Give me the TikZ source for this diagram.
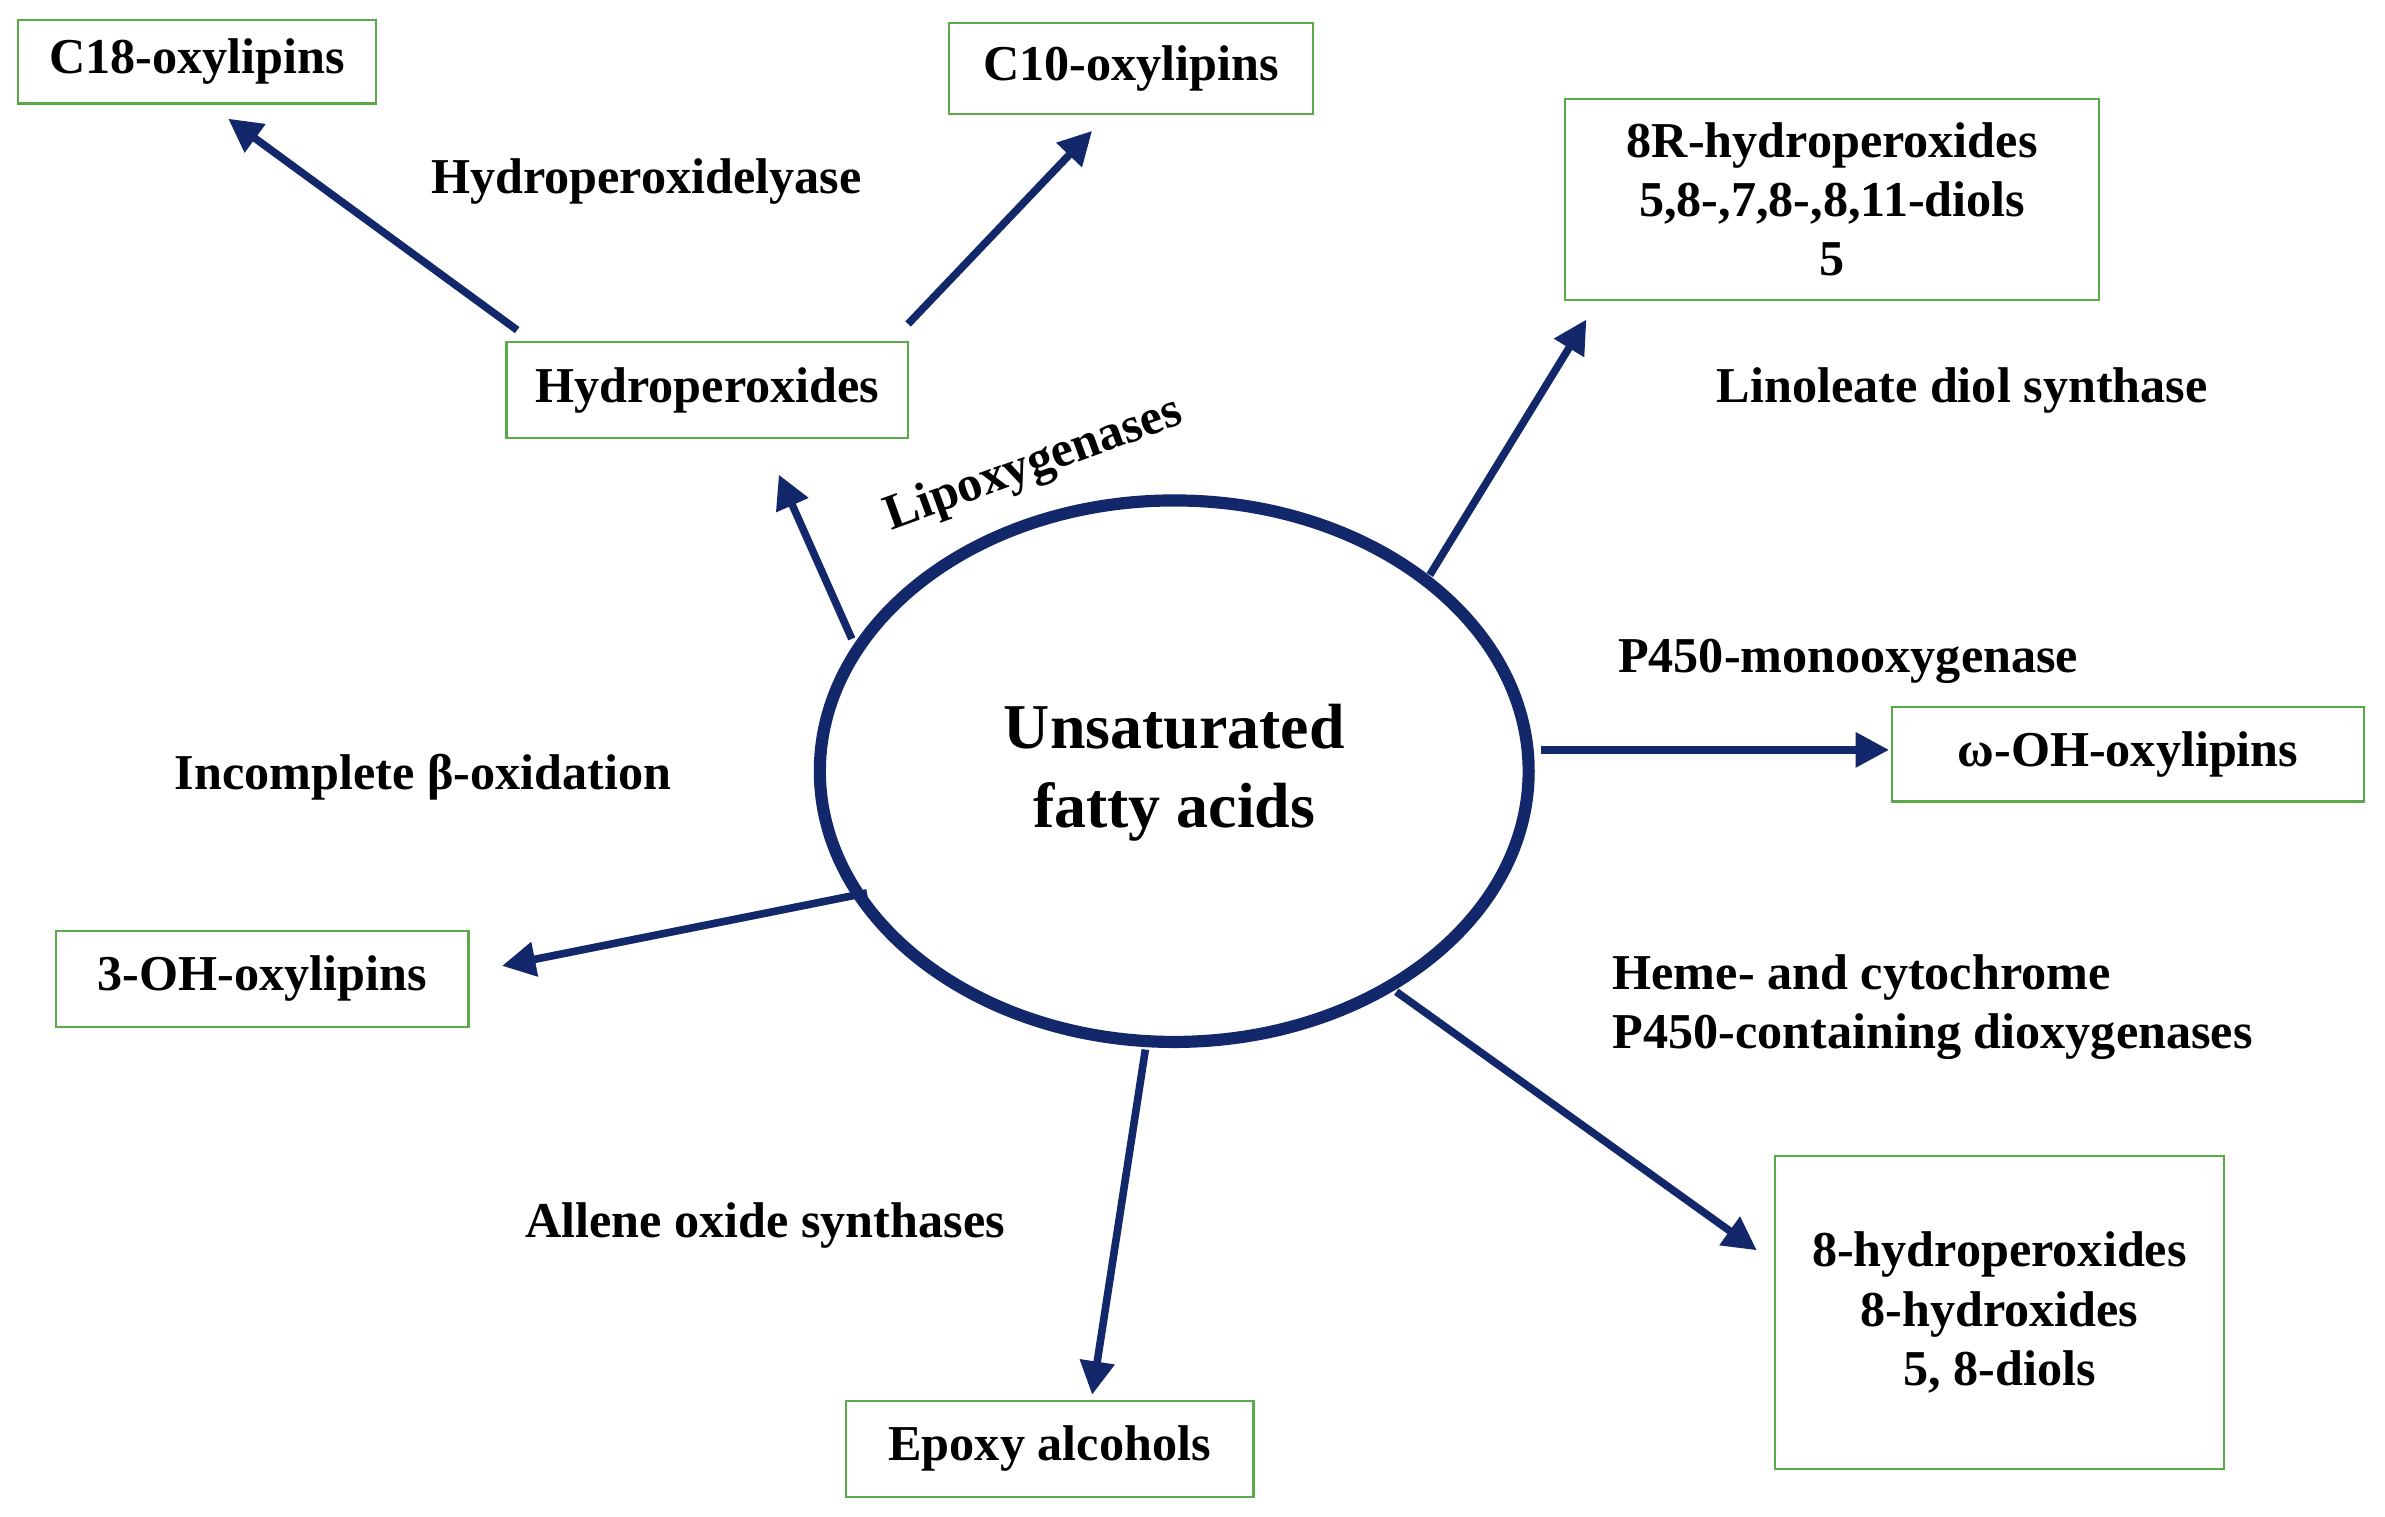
\documentclass[tikz,border=0pt]{standalone}
\usepackage{fontspec}
\setmainfont{Liberation Serif}
\usetikzlibrary{arrows.meta}
\definecolor{arr}{HTML}{13286A}
\definecolor{bx}{HTML}{5AAA4A}
\begin{document}
\begin{tikzpicture}[x=1pt,y=-1pt,
  box/.style={draw=bx,line width=1.5pt,inner sep=0pt,align=center,font=\fontsize{33}{40}\selectfont\bfseries},
  lab/.style={font=\fontsize{33}{40}\selectfont\bfseries,inner sep=0pt},
  ar/.style={draw=arr,line width=5pt,-{Triangle[length=22pt,width=22pt]}}]
\useasboundingbox (0,0) rectangle (1568,997);
\draw[arr,line width=8pt] (772,507) ellipse [x radius=233, y radius=178];
\node[lab,align=center,font=\fontsize{42}{52}\selectfont\bfseries] (ufa) at (772,508) {Unsaturated\\fatty acids};
\node[box,minimum width=235,minimum height=55] (c18) at (129.5,40.5) {C18-oxylipins};
\node[box,minimum width=239,minimum height=60] (c10) at (743.5,45) {C10-oxylipins};
\node[box,minimum width=264,minimum height=63] (hp) at (465,256.5) {Hydroperoxides};
\node[box,minimum width=351,minimum height=132,font=\fontsize{33}{39}\selectfont\bfseries] (r8) at (1204.5,131) {8R-hydroperoxides\\5,8-,7,8-,8,11-diols\\5};
\node[box,minimum width=310,minimum height=62] (om) at (1399,496) {ω-OH-oxylipins};
\node[box,minimum width=271,minimum height=63] (oh3) at (172.5,643.5) {3-OH-oxylipins};
\node[box,minimum width=268,minimum height=63] (ep) at (690,952.5) {Epoxy alcohols};
\node[box,minimum width=295,minimum height=206,font=\fontsize{33}{39}\selectfont\bfseries] (h8) at (1314.5,863) {8-hydroperoxides\\8-hydroxides\\5, 8-diols};
\node[lab] (l1) at (425,119) {Hydroperoxidelyase};
\node[lab,rotate=20] (l2) at (680,306) {Lipoxygenases};
\node[lab] (l3) at (1290,257) {Linoleate diol synthase};
\node[lab] (l4) at (1215,435) {P450-monooxygenase};
\node[lab] (l5) at (278,511) {Incomplete β-oxidation};
\node[lab,anchor=west,align=left,font=\fontsize{33}{39}\selectfont\bfseries] (l6) at (1060,662) {Heme- and cytochrome\\P450-containing dioxygenases};
\node[lab] (l7) at (503,806) {Allene oxide synthases};
\coordinate (a1) at (340,217); \coordinate (b1) at (150,78);
\coordinate (a2) at (597,213); \coordinate (b2) at (718,86);
\coordinate (a3) at (560,420); \coordinate (b3) at (512,312);
\coordinate (a4) at (940,378); \coordinate (b4) at (1043,210);
\coordinate (a5) at (1013,493); \coordinate (b5) at (1242,493);
\coordinate (a6) at (570,587); \coordinate (b6) at (330,635);
\coordinate (a7) at (753,690); \coordinate (b7) at (718,917);
\coordinate (a8) at (918,652); \coordinate (b8) at (1155,822);
\draw[ar] (a1) -- (b1);
\draw[ar] (a2) -- (b2);
\draw[ar] (a3) -- (b3);
\draw[ar] (a4) -- (b4);
\draw[ar] (a5) -- (b5);
\draw[ar] (a6) -- (b6);
\draw[ar] (a7) -- (b7);
\draw[ar] (a8) -- (b8);
\end{tikzpicture}
\end{document}
